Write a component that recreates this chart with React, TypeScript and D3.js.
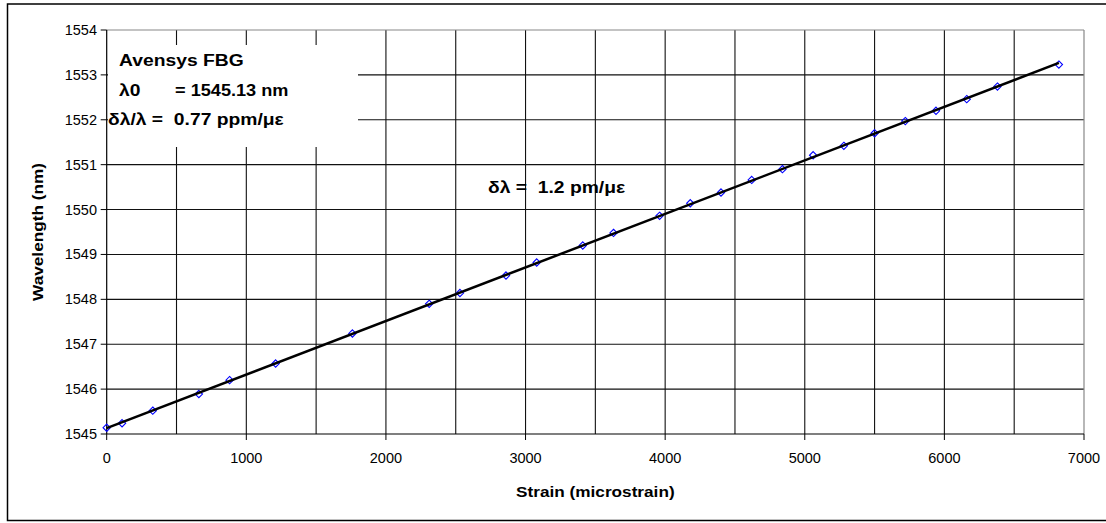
import React from "react";
import * as d3 from "d3";

const strain = [0, 110, 330, 660, 880, 1210, 1760, 2310, 2530, 2860, 3080, 3410, 3630, 3960, 4180, 4400, 4620, 4840, 5060, 5280, 5500, 5720, 5940, 6160, 6380, 6820];
const wavelength = [1545.14, 1545.24, 1545.52, 1545.89, 1546.2, 1546.57, 1547.24, 1547.9, 1548.14, 1548.53, 1548.82, 1549.2, 1549.48, 1549.86, 1550.14, 1550.38, 1550.66, 1550.9, 1551.21, 1551.42, 1551.7, 1551.97, 1552.2, 1552.46, 1552.74, 1553.23];
const xTicks = [0, 1000, 2000, 3000, 4000, 5000, 6000, 7000];
const xGrid = [500, 1000, 1500, 2000, 2500, 3000, 3500, 4000, 4500, 5000, 5500, 6000, 6500];
const yTicks = [1545, 1546, 1547, 1548, 1549, 1550, 1551, 1552, 1553, 1554];
const xTitle = "Strain (microstrain)";
const yTitle = "Wavelength (nm)";
const noteLines = ["Avensys FBG", "λ0", "= 1545.13 nm", "δλ/λ =  0.77 ppm/με"];
const slopeNote = "δλ =  1.2 pm/με";

const FONT = "'Liberation Sans', Arial, Helvetica, sans-serif";

export default function App() {
  const x = d3.scaleLinear().domain([0, 7000]).range([106.7, 1084]);
  const y = d3.scaleLinear().domain([1545, 1554]).range([434, 30]);
  const [x0, x1] = x.range();
  const [yb, yt] = y.range();

  // least squares trendline
  const mx = d3.mean(strain)!;
  const my = d3.mean(wavelength)!;
  let num = 0, den = 0;
  strain.forEach((s, i) => { num += (s - mx) * (wavelength[i] - my); den += (s - mx) * (s - mx); });
  const slope = num / den;
  const icpt = my - slope * mx;
  const xs = [d3.min(strain)!, d3.max(strain)!];
  const trend = d3.line<number>().x((d) => x(d)).y((d) => y(icpt + slope * d))(xs)!;

  const diamond = d3.symbol().type(d3.symbolDiamond2).size(34)()!;
  const sx = 1.17;

  return (
    <svg width={1106} height={523} style={{ position: "absolute", left: 0, top: 0 }} fontFamily={FONT}>
      <rect x={0} y={0} width={1106} height={523} fill="#fff" />
      <rect x={7.5} y={4} width={1110} height={516.5} fill="none" stroke="#000" strokeWidth={1.5} />
      {/* grid */}
      {yTicks.slice(1, -1).map((v) => (
        <line key={"hy" + v} x1={x0} x2={x1} y1={y(v)} y2={y(v)} stroke="#111" strokeWidth={1.1} />
      ))}
      {xGrid.map((v) => (
        <line key={"vx" + v} x1={x(v)} x2={x(v)} y1={yt} y2={yb} stroke="#111" strokeWidth={1.1} />
      ))}
      {/* plot border top/right gray */}
      <line x1={x0} x2={x1} y1={yt} y2={yt} stroke="#888" strokeWidth={1.2} />
      <line x1={x1} x2={x1} y1={yt} y2={yb} stroke="#888" strokeWidth={1.2} />
      {/* axes */}
      <line x1={x0} x2={x1} y1={yb} y2={yb} stroke="#000" strokeWidth={1.2} />
      <line x1={x0} x2={x0} y1={yt} y2={yb} stroke="#000" strokeWidth={1.2} />
      {xTicks.map((v) => (
        <g key={"xt" + v}>
          <line x1={x(v)} x2={x(v)} y1={yb} y2={yb + 6} stroke="#000" strokeWidth={1} />
          <text x={x(v)} y={yb + 29} textAnchor="middle" fontSize={14.5} fill="#000">{v}</text>
        </g>
      ))}
      {yTicks.map((v) => (
        <g key={"yt" + v}>
          <line x1={x0 - 6} x2={x0} y1={y(v)} y2={y(v)} stroke="#000" strokeWidth={1} />
          <text x={97} y={y(v) + 5} textAnchor="end" fontSize={14.5} fill="#000">{v}</text>
        </g>
      ))}
      {/* annotation box */}
      <rect x={108} y={45} width={250} height={102} fill="#fff" />
      <g fontWeight="bold" fontSize={16.5} fill="#000">
        <text transform={`translate(119,65.5) scale(${sx},1)`}>{noteLines[0]}</text>
        <text transform={`translate(119,96) scale(${sx},1)`}>{noteLines[1]}</text>
        <text transform={`translate(175,96) scale(1.1,1)`}>{noteLines[2]}</text>
        <text transform={`translate(108,124.5) scale(${sx},1)`} style={{ whiteSpace: "pre" }}>{noteLines[3]}</text>
        <text transform={`translate(488,193) scale(${sx},1)`} style={{ whiteSpace: "pre" }}>{slopeNote}</text>
      </g>
      {/* markers */}
      {strain.map((s, i) => (
        <path key={"p" + i} d={diamond} transform={`translate(${x(s)},${y(wavelength[i])})`} fill="none" stroke="#0000ff" strokeWidth={1.1} />
      ))}
      <path d={trend} fill="none" stroke="#000" strokeWidth={2.5} />
      {/* titles */}
      <text transform={`translate(${(x0 + x1) / 2},497) scale(${sx},1)`} textAnchor="middle" fontWeight="bold" fontSize={14.7}>{xTitle}</text>
      <text transform={`translate(43,${(yt + yb) / 2}) rotate(-90) scale(${sx},1)`} textAnchor="middle" fontWeight="bold" fontSize={14.7}>{yTitle}</text>
    </svg>
  );
}
